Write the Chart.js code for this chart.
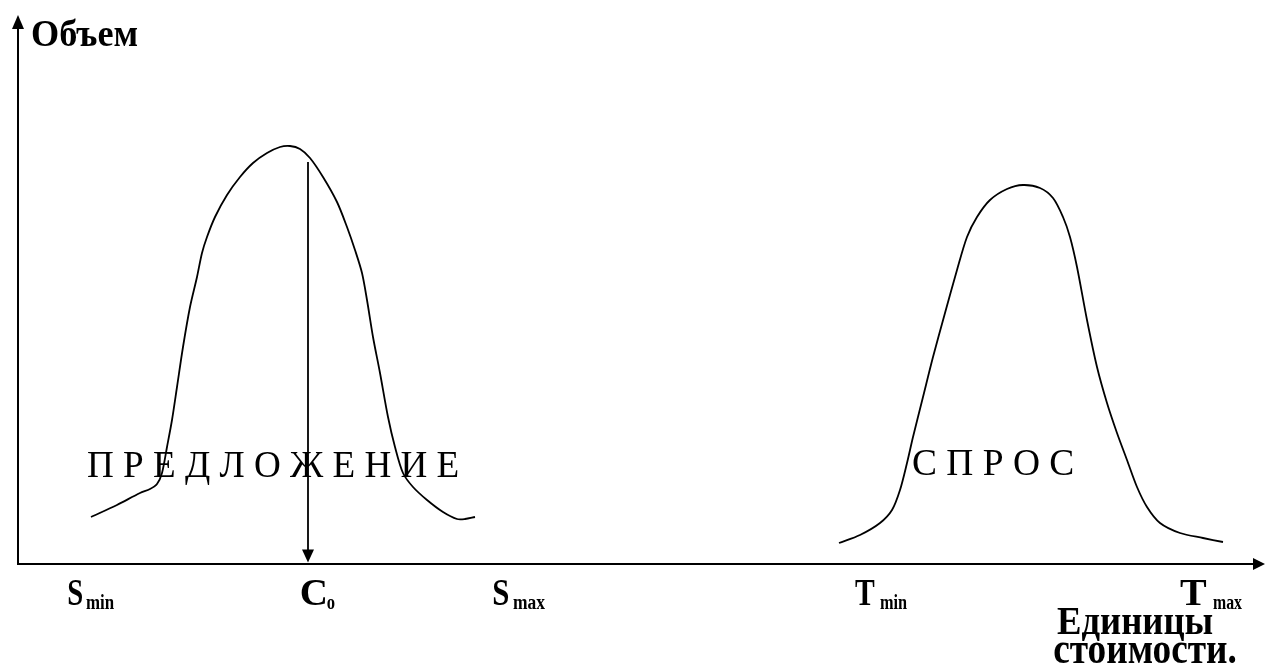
<!DOCTYPE html>
<html>
<head>
<meta charset="utf-8">
<script src="https://cdn.jsdelivr.net/npm/chart.js@4.4.1/dist/chart.umd.min.js"></script>
<style>
  body { margin: 0; background: #fff; }
  canvas { display: block; }
</style>
</head>
<body>
<canvas id="myChart" width="1265" height="668"></canvas>
<script>
// supply curve (ПРЕДЛОЖЕНИЕ)
const supplyX = [73, 99, 122, 132, 139, 144, 149, 154, 159, 165, 172, 179, 184, 189, 197, 209, 222, 235, 249, 262, 272, 282, 292, 305, 319, 329, 337, 344, 349, 355, 362, 370, 377, 385, 395, 409, 425, 439, 447, 457]
const supplyY = [47, 59, 71, 75, 80, 91, 117, 144, 177, 217, 257, 287, 311, 327, 347, 369, 387, 401, 411, 417, 418, 415, 406, 387, 362, 337, 314, 291, 264, 227, 191, 147, 117, 91, 77, 64, 52, 45, 45, 47]

// demand curve (СПРОС)
const demandX = [821, 842, 862, 874, 882, 889, 895, 905, 915, 927, 939, 949, 959, 972, 989, 1005, 1022, 1035, 1045, 1052, 1059, 1069, 1079, 1089, 1099, 1109, 1119, 1129, 1142, 1162, 1185, 1205]
const demandY = [21, 29, 41, 54, 74, 101, 127, 167, 207, 251, 294, 327, 347, 364, 375, 379, 376, 366, 347, 327, 297, 244, 197, 161, 131, 104, 77, 57, 41, 31, 26, 22]

// C0 marker: position on the axis and where it meets the supply curve
const coValue = 290
const coTop = 402

// tick labels under the x axis
const tickMain = ['S', 'C', 'S', 'T', 'T']
const tickSub = ['min', 'o', 'max', 'min', 'max']

const axisMax = { x: 1247, y: 564 }

// label layout in chart units: main left/right, sub left/right
const tickLayout = [
  [50, 64, 68, 96],
  [282.7, 307, 308.7, 317],
  [475, 490, 495, 527],
  [837, 857, 862, 889],
  [1162, 1189, 1195, 1224]
]
// [text, bold, size, left, right, baseline]
const otherLabels = [
  ['Объем', true, 37, 14, 120, 518],
  ['Единицы', true, 40, 1039, 1195, -70],
  ['стоимости.', true, 44, 1036, 1218, -99],
  ['П Р Е Д Л О Ж Е Н И Е', false, 38, 70, 440, 87.3],
  ['С П Р О С', false, 38, 895, 1055, 89]
]

function pts (xs, ys) {
  return xs.map((x, i) => ({ x: x, y: ys[i] }))
}

function drawFit (ctx, xs, ys, text, bold, size, left, right, base) {
  ctx.save()
  ctx.font = (bold ? 'bold ' : '') + size + 'px "Liberation Serif", "Times New Roman", serif'
  ctx.fillStyle = '#000'
  ctx.textBaseline = 'alphabetic'
  const m = ctx.measureText(text)
  const l = xs.getPixelForValue(left)
  const r = xs.getPixelForValue(right)
  const inkW = m.actualBoundingBoxLeft + m.actualBoundingBoxRight
  const sx = (r - l) / inkW
  ctx.translate(l, ys.getPixelForValue(base))
  ctx.scale(sx, 1)
  ctx.fillText(text, m.actualBoundingBoxLeft, 0)
  ctx.restore()
}

function arrowHead (ctx, tipX, tipY, dx, dy, len, half) {
  // dx,dy = unit direction the arrow points to
  const bx = tipX - dx * len
  const by = tipY - dy * len
  ctx.beginPath()
  ctx.moveTo(tipX, tipY)
  ctx.lineTo(bx - dy * half, by + dx * half)
  ctx.lineTo(bx + dy * half, by - dx * half)
  ctx.closePath()
  ctx.fill()
}

const diagramPlugin = {
  id: 'diagram',
  afterDraw (chart) {
    const ctx = chart.ctx
    const xs = chart.scales.x
    const ys = chart.scales.y
    const x0 = xs.getPixelForValue(0)
    const y0 = ys.getPixelForValue(0)
    const xEnd = xs.getPixelForValue(axisMax.x)
    const yEnd = ys.getPixelForValue(549)

    ctx.save()
    ctx.strokeStyle = '#000'
    ctx.fillStyle = '#000'
    ctx.lineWidth = 2
    ctx.beginPath()
    ctx.moveTo(x0, yEnd + 6)
    ctx.lineTo(x0, y0)
    ctx.lineTo(xEnd - 6, y0)
    ctx.stroke()
    arrowHead(ctx, x0, yEnd, 0, -1, 14, 6)
    arrowHead(ctx, xEnd, y0, 1, 0, 12, 6)
    // arrow tip of C0 marker
    arrowHead(ctx, xs.getPixelForValue(coValue), y0 - 1.5, 0, 1, 13, 6)
    ctx.restore()

    tickMain.forEach((t, i) => {
      const p = tickLayout[i]
      drawFit(ctx, xs, ys, t, true, 37, p[0], p[1], -41)
      drawFit(ctx, xs, ys, tickSub[i], true, 20, p[2], p[3], -44.5)
    })
    otherLabels.forEach(o => drawFit(ctx, xs, ys, o[0], o[1], o[2], o[3], o[4], o[5]))
  }
}

const ctx = document.getElementById('myChart').getContext('2d')

const curveStyle = {
  showLine: true,
  borderColor: '#000',
  borderWidth: 1.8,
  pointRadius: 0,
  tension: 0.3
}

new Chart(ctx, {
  type: 'scatter',
  data: {
    datasets: [
      Object.assign({ label: 'ПРЕДЛОЖЕНИЕ', data: pts(supplyX, supplyY) }, curveStyle),
      Object.assign({ label: 'СПРОС', data: pts(demandX, demandY) }, curveStyle),
      {
        label: 'C0',
        data: [{ x: coValue, y: coTop }, { x: coValue, y: 12 }],
        showLine: true,
        borderColor: '#000',
        borderWidth: 1.8,
        pointRadius: 0
      }
    ]
  },
  options: {
    responsive: false,
    animation: false,
    events: [],
    layout: { padding: { left: 18, right: 0, top: 0, bottom: 104 } },
    plugins: { legend: { display: false }, tooltip: { enabled: false } },
    scales: {
      x: { type: 'linear', min: 0, max: axisMax.x, display: false },
      y: { type: 'linear', min: 0, max: axisMax.y, display: false }
    }
  },
  plugins: [diagramPlugin]
})
</script>
</body>
</html>
